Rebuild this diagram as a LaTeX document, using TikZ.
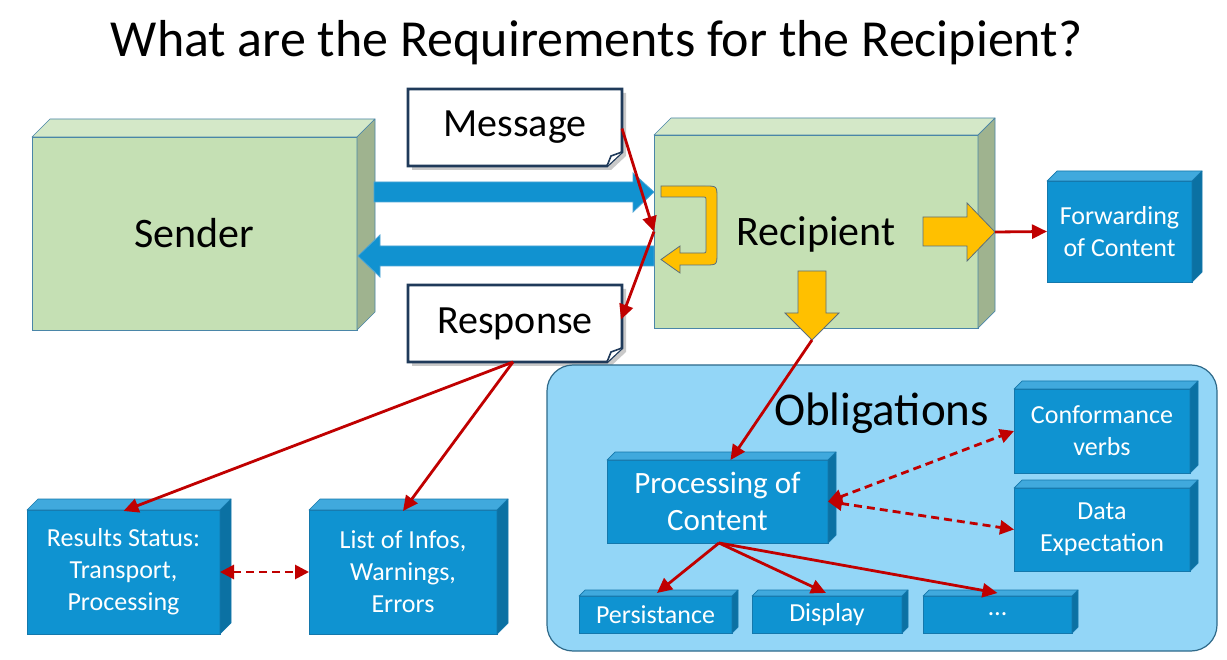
\documentclass[tikz,border=0pt]{standalone}
\usepackage{fontspec}
\setmainfont{Carlito}
\usetikzlibrary{arrows.meta,calc}
\pgfdeclarelayer{bg}
\pgfsetlayers{bg,main}
\definecolor{gfront}{HTML}{C5E0B4}
\definecolor{gtop}{HTML}{D4E8C8}
\definecolor{gside}{HTML}{9FB38F}
\definecolor{gedge}{HTML}{4A86A8}
\definecolor{bfront}{HTML}{0F93D1}
\definecolor{btop}{HTML}{40A9DD}
\definecolor{bside}{HTML}{0B71A3}
\definecolor{bedge}{HTML}{1478AC}
\definecolor{obfill}{HTML}{93D6F7}
\definecolor{obedge}{HTML}{2F6A8A}
\definecolor{redc}{HTML}{C00000}
\definecolor{yel}{HTML}{FFC000}
\definecolor{yedge}{HTML}{5B6F7C}
\definecolor{navy}{HTML}{1F3A5A}
\definecolor{arrowblue}{HTML}{1192D0}
\definecolor{arrowedge}{HTML}{4FA6D6}
\newcommand\cubefaces[5]{%
  \filldraw[fill=#3,draw=#5,line width=0.7pt,line join=round] (#1.north west) -- ([shift={(#2pt,#2pt)}]#1.north west) -- ([shift={(#2pt,#2pt)}]#1.north east) -- (#1.north east) -- cycle;
  \filldraw[fill=#4,draw=#5,line width=0.7pt,line join=round] (#1.north east) -- ([shift={(#2pt,#2pt)}]#1.north east) -- ([shift={(#2pt,#2pt)}]#1.south east) -- (#1.south east) -- cycle;
}
\begin{document}
\begin{tikzpicture}[x=1pt,y=-1pt,
  greenbox/.style={draw=gedge,fill=gfront,line width=0.8pt,inner sep=0pt,outer sep=0pt,font=\fontsize{42}{50}\selectfont},
  bluebox/.style={draw=bedge,fill=bfront,line width=0.6pt,inner sep=0pt,outer sep=0pt,text=white,align=center,font=\fontsize{26}{32}\selectfont},
  notebox/.style={inner sep=0pt,outer sep=0pt,minimum width=214pt,minimum height=77pt,font=\fontsize{40}{48}\selectfont},
  redarrow/.style={draw=redc,line width=2.8pt,-{Triangle[length=15pt,width=14pt]}},
  reddash/.style={draw=redc,line width=2.8pt,dash pattern=on 8pt off 5pt,{Triangle[length=14pt,width=14pt]}-{Triangle[length=14pt,width=14pt]}},
  bluearrow/.style={fill=arrowblue,draw=arrowedge,line width=0.8pt},
  yelarrow/.style={fill=yel,draw=yedge,line width=0.8pt,line join=miter}
]
\useasboundingbox (0,0) rectangle (1227,660);
\begin{pgfonlayer}{bg}
\fill[white] (0,0) rectangle (1227,660);
\end{pgfonlayer}

% title
\node[font=\fontsize{52}{62}\selectfont,anchor=base] (title) at (596.5,57) {What are the Requirements for the Recipient?};

% obligations container
\node[draw=obedge,fill=obfill,line width=1.2pt,rounded corners=26pt,minimum width=670pt,minimum height=286pt,inner sep=0pt,outer sep=0pt] (oblig) at (882,508) {};
\node[font=\fontsize{47}{56}\selectfont,anchor=base] (obltext) at (881.5,425) {Obligations};

% sender / recipient
\node[greenbox,minimum width=325pt,minimum height=193pt] (sender) at (194.5,233.5) {Sender};
\cubefaces{sender}{18}{gtop}{gside}{gedge}
\node[greenbox,minimum width=324pt,minimum height=193pt,text depth=0pt] (rec) at (816,231.5) {Recipient};
\cubefaces{rec}{17}{gtop}{gside}{gedge}

% blue boxes
\node[bluebox,minimum width=145pt,minimum height=101pt] (fwd) at (1119.5,231.5) {Forwarding\\of Content};
\cubefaces{fwd}{10}{btop}{bside}{bedge}
\node[bluebox,minimum width=193pt,minimum height=124pt] (res) at (123.5,572) {Results Status:\\Transport,\\Processing};
\cubefaces{res}{11}{btop}{bside}{bedge}
\node[bluebox,minimum width=188pt,minimum height=124pt] (list) at (403,572) {List of Infos,\\Warnings,\\Errors};
\cubefaces{list}{11}{btop}{bside}{bedge}
\node[bluebox,minimum width=221pt,minimum height=83pt,font=\fontsize{31}{37}\selectfont] (proc) at (717.5,501.5) {Processing of\\Content};
\cubefaces{proc}{8}{btop}{bside}{bedge}
\node[bluebox,minimum width=176pt,minimum height=84pt] (conf) at (1102,431) {Conformance\\verbs};
\cubefaces{conf}{8}{btop}{bside}{bedge}
\node[bluebox,minimum width=176pt,minimum height=83pt] (data) at (1102,529.5) {Data\\Expectation};
\cubefaces{data}{8}{btop}{bside}{bedge}
\node[bluebox,minimum width=153pt,minimum height=37pt] (pers) at (655.5,614.5) {Persistance};
\cubefaces{pers}{6}{btop}{bside}{bedge}
\node[bluebox,minimum width=150pt,minimum height=37pt] (disp) at (827,614.5) {Display};
\cubefaces{disp}{6}{btop}{bside}{bedge}
\node[bluebox,minimum width=149pt,minimum height=37pt] (dots) at (997.5,614.5) {…};
\cubefaces{dots}{6}{btop}{bside}{bedge}

% message / response notes
\node[notebox] (msg) at (515,127.5) {Message};
\node[notebox] (resp) at (515,323.5) {Response};
\begin{pgfonlayer}{bg}
  \foreach \n in {msg,resp}{
    \fill[black!35,opacity=0.6] ([shift={(4pt,-4pt)}]\n.north west) -- ([shift={(4pt,-4pt)}]\n.north east) -- ([shift={(4pt,10pt)}]\n.south east) -- ([shift={(-11pt,-4pt)}]\n.south east) -- ([shift={(4pt,-4pt)}]\n.south west) -- cycle;
    \filldraw[fill=white,draw=navy,line width=2.6pt,line join=miter] (\n.north west) -- (\n.north east) -- ([yshift=14pt]\n.south east) -- ([xshift=-15pt]\n.south east) -- (\n.south west) -- cycle;
    \filldraw[fill=white,draw=navy,line width=1.6pt,line join=round] ([yshift=14pt]\n.south east) -- ([shift={(-11pt,10pt)}]\n.south east) -- ([xshift=-15pt]\n.south east);
  }
\end{pgfonlayer}

% big blue arrows
\filldraw[bluearrow] (374,182) -- (633,182) -- (633,173) -- (654,192) -- (633,212) -- (633,202) -- (374,202) -- cycle;
\filldraw[bluearrow] (654,246) -- (380,246) -- (380,235) -- (358,256) -- (380,277) -- (380,266) -- (654,266) -- cycle;

% yellow arrows
\filldraw[yelarrow] (661,186) -- (705,186) .. controls (717,186) .. (717,198) -- (717,253) .. controls (717,265) .. (705,265) -- (680,265) -- (680,273) -- (661,259.5) -- (680,246) -- (680,253) -- (702,253) .. controls (706,253) .. (706,249) -- (706,201) .. controls (706,197) .. (702,197) -- (661,197) -- cycle;
\filldraw[yelarrow] (923,217) -- (967,217) -- (967,203) -- (995,232) -- (967,261) -- (967,246) -- (923,246) -- cycle;
\coordinate (yr) at (995,232);
\filldraw[yelarrow] (798,271) -- (826,271) -- (826,313) -- (839,313) -- (812,340) -- (785,313) -- (798,313) -- cycle;
\coordinate (yd) at (812,340);

% red connectors
\draw[redarrow] ([yshift=-1pt]msg.east) -- (rec.west);
\draw[redarrow] (rec.west) -- ([shift={(-1pt,4pt)}]resp.east);
\draw[redarrow] (yr) -- (fwd.west);
\draw[redarrow] (yd) -- ([xshift=13pt]proc.north);
\draw[redarrow] ([xshift=-2pt]resp.south) -- ([yshift=-1pt]res.north);
\draw[redarrow] ([xshift=-2pt]resp.south) -- ([yshift=-1pt]list.north);
\draw[redarrow] ([xshift=1.5pt]proc.south) -- ([shift={(1.5pt,3pt)}]pers.north);
\draw[redarrow] ([xshift=1.5pt]proc.south) -- ([shift={(-1pt,3pt)}]disp.north);
\draw[redarrow] ([xshift=1.5pt]proc.south) -- ([yshift=3pt]dots.north);
\draw[reddash] (proc.east) -- (conf.west);
\draw[reddash] (proc.east) -- (data.west);
\draw[reddash] (res.east) -- (list.west);
\end{tikzpicture}
\end{document}
